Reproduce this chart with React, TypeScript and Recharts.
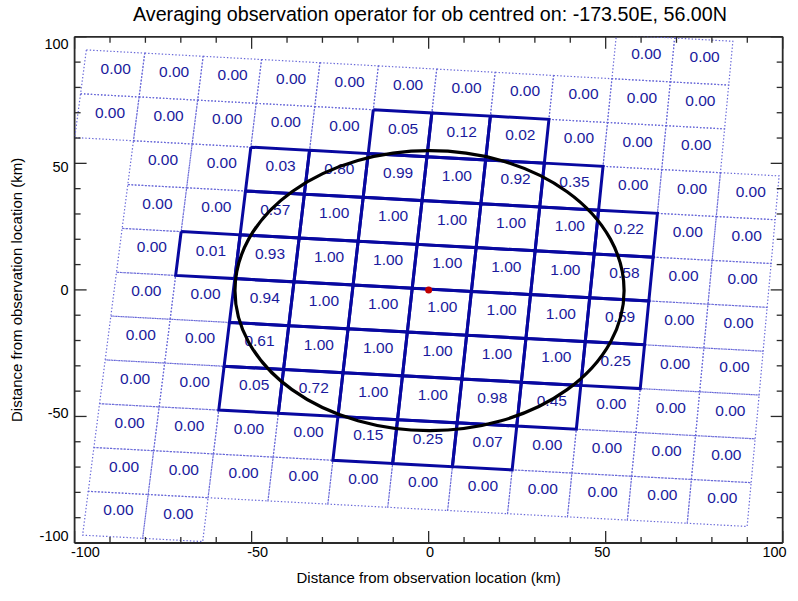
import React from 'react';
import { ScatterChart, Scatter, XAxis, YAxis } from 'recharts';

const FONT = "'Liberation Sans', Arial, Helvetica, sans-serif";
const TITLE = 'Averaging observation operator for ob centred on: -173.50E, 56.00N';
const AXIS_TITLE = 'Distance from observation location (km)';

const AXIS_TICKS = [-100, -90, -80, -70, -60, -50, -40, -30, -20, -10, 0, 10, 20, 30, 40, 50, 60, 70, 80, 90, 100];
const LABELLED_TICKS = [-100, -50, 0, 50, 100];

// Model grid rows (top to bottom): row index, first column index, values
const ROW_IDS = [-1, 0, 1, 2, 3, 4, 5, 6, 7, 8, 9, 10];
const ROW_FIRST_COLUMN = [9, 0, 0, 1, 1, 1, 1, 1, 1, 1, 1, 1];
const ROW_M1 = [0.0, 0.0];
const ROW_0 = [0.0, 0.0, 0.0, 0.0, 0.0, 0.0, 0.0, 0.0, 0.0, 0.0, 0.0];
const ROW_1 = [0.0, 0.0, 0.0, 0.0, 0.0, 0.05, 0.12, 0.02, 0.0, 0.0, 0.0];
const ROW_2 = [0.0, 0.0, 0.03, 0.8, 0.99, 1.0, 0.92, 0.35, 0.0, 0.0, 0.0];
const ROW_3 = [0.0, 0.0, 0.57, 1.0, 1.0, 1.0, 1.0, 1.0, 0.22, 0.0, 0.0];
const ROW_4 = [0.0, 0.01, 0.93, 1.0, 1.0, 1.0, 1.0, 1.0, 0.58, 0.0, 0.0];
const ROW_5 = [0.0, 0.0, 0.94, 1.0, 1.0, 1.0, 1.0, 1.0, 0.59, 0.0, 0.0];
const ROW_6 = [0.0, 0.0, 0.61, 1.0, 1.0, 1.0, 1.0, 1.0, 0.25, 0.0, 0.0];
const ROW_7 = [0.0, 0.0, 0.05, 0.72, 1.0, 1.0, 0.98, 0.45, 0.0, 0.0, 0.0];
const ROW_8 = [0.0, 0.0, 0.0, 0.0, 0.15, 0.25, 0.07, 0.0, 0.0, 0.0, 0.0];
const ROW_9 = [0.0, 0.0, 0.0, 0.0, 0.0, 0.0, 0.0, 0.0, 0.0, 0.0, 0.0];
const ROW_10 = [0.0, 0.0];
const ROW_VALUES = [ROW_M1, ROW_0, ROW_1, ROW_2, ROW_3, ROW_4, ROW_5, ROW_6, ROW_7, ROW_8, ROW_9, ROW_10];

// Grid geometry in km (distance from observation location)
const GRID_ORIGIN = { x: -96.68, y: 94.81 };
const GRID_COL_STEP = { x: 16.494, y: -1.262 };
const GRID_ROW_STEP = { x: -1.638, y: -17.313 };
const GRID_SKEW_X = 0.0424;

// Averaging circle extremes (left, top, right, bottom), km
const CIRCLE_EXTREMES = [
  { x: -54.7, y: 0 },
  { x: 0, y: 55.0 },
  { x: 55.2, y: 0 },
  { x: 0, y: -55.6 },
];
const OB_LOCATION = [{ x: 0, y: 0 }];

const AXIS_COLOR = '#2a2a2a';
const THICK_COLOR = '#0808a0';
const THIN_COLOR = '#6868d8';
const TEXT_COLOR = '#1a1a9c';

function gridNode(i: number, j: number) {
  return {
    x: GRID_ORIGIN.x + i * GRID_COL_STEP.x + j * GRID_ROW_STEP.x + i * j * GRID_SKEW_X,
    y: GRID_ORIGIN.y + i * GRID_COL_STEP.y + j * GRID_ROW_STEP.y,
  };
}

const CELLS = ROW_VALUES.flatMap((vals, k) =>
  vals.map((v, n) => {
    const c = ROW_FIRST_COLUMN[k] + n;
    const r = ROW_IDS[k];
    return {
      key: `cell_${r}_${c}`,
      v,
      corners: [gridNode(c, r), gridNode(c + 1, r), gridNode(c + 1, r + 1), gridNode(c, r + 1), gridNode(c, r)],
      center: { ...gridNode(c + 0.5, r + 0.5), v },
    };
  })
);
const THIN_CELLS = CELLS.filter((c) => c.v === 0);
const THICK_CELLS = CELLS.filter((c) => c.v !== 0);
const LABEL_POINTS = CELLS.map((c) => c.center);

const Empty = () => <g />;

const CellLabel = (p: any) => (
  <text
    x={p.cx + 3}
    y={p.cy + 0.5}
    textAnchor="middle"
    fontSize={15.5}
    fontFamily={FONT}
    fill={TEXT_COLOR}
  >
    {Number(p.payload.v).toFixed(2)}
  </text>
);

const CircleOutline = (props: any) => {
  const pts = props.points || [];
  if (pts.length < 4) return null;
  const [l, t, r, b] = pts;
  return (
    <ellipse
      cx={(l.x + r.x) / 2}
      cy={(t.y + b.y) / 2}
      rx={Math.abs(r.x - l.x) / 2}
      ry={Math.abs(b.y - t.y) / 2}
      fill="none"
      stroke="#000"
      strokeWidth={3.2}
    />
  );
};

const ObDot = (p: any) => <circle cx={p.cx} cy={p.cy} r={3.5} fill="#c00000" />;

const isMajor = (v: number) => LABELLED_TICKS.includes(v);

const BottomTick = (p: any) => {
  const v = p.payload.value;
  const major = isMajor(v);
  return (
    <g>
      <line x1={p.x} x2={p.x} y1={p.y} y2={p.y - (major ? 12 : 6)} stroke={AXIS_COLOR} strokeWidth={1.3} />
      {major && (
        <text x={p.x - v * 0.095 + 1.3} y={p.y + 14} textAnchor="middle" fontSize={14.5} fontFamily={FONT} fill="#000">
          {v}
        </text>
      )}
    </g>
  );
};
const TopTick = (p: any) => {
  const major = isMajor(p.payload.value);
  return <line x1={p.x} x2={p.x} y1={p.y} y2={p.y + (major ? 12 : 6)} stroke={AXIS_COLOR} strokeWidth={1.3} />;
};
const LeftTick = (p: any) => {
  const v = p.payload.value;
  const major = isMajor(v);
  return (
    <g>
      <line x1={p.x} x2={p.x + (major ? 12 : 6)} y1={p.y} y2={p.y} stroke={AXIS_COLOR} strokeWidth={1.3} />
      {major && (
        <text x={p.x - 6} y={p.y + v * 0.075 + 5} textAnchor="end" fontSize={14.5} fontFamily={FONT} fill="#000">
          {v}
        </text>
      )}
    </g>
  );
};
const RightTick = (p: any) => {
  const major = isMajor(p.payload.value);
  return <line x1={p.x} x2={p.x - (major ? 12 : 6)} y1={p.y} y2={p.y} stroke={AXIS_COLOR} strokeWidth={1.3} />;
};

const YTitle = (props: any) => {
  const vb = props.viewBox || { x: 0, y: 36.8, width: 74.6, height: 506 };
  const cx = vb.x + 17;
  const cy = vb.y + vb.height / 2;
  return (
    <text
      x={cx}
      y={cy}
      transform={`rotate(-90 ${cx} ${cy})`}
      textAnchor="middle"
      dominantBaseline="central"
      fontSize={15}
      fontFamily={FONT}
      fill="#000"
    >
      {AXIS_TITLE}
    </text>
  );
};

const axisLine = { stroke: AXIS_COLOR, strokeWidth: 1.8 };

export default function App() {
  return (
    <div style={{ position: 'absolute', left: 0, top: 0, width: 798, height: 601, background: '#fff', fontFamily: FONT }}>
      <div
        style={{
          position: 'absolute',
          left: 0,
          top: 3,
          width: 860,
          textAlign: 'center',
          fontSize: 19.7,
          lineHeight: '22px',
          color: '#000',
          fontFamily: FONT,
          whiteSpace: 'nowrap',
        }}
      >
        {TITLE}
      </div>
      <ScatterChart
        width={798}
        height={601}
        margin={{ top: 35.8, right: 14.3, bottom: 13, left: 0 }}
        style={{ fontFamily: FONT }}
      >
        <XAxis
          xAxisId="b"
          type="number"
          dataKey="x"
          domain={[-100, 100]}
          allowDataOverflow
          ticks={AXIS_TICKS}
          interval={0}
          tickSize={0}
          tickMargin={0}
          tickLine={false}
          tick={BottomTick}
          height={45}
          axisLine={axisLine}
          label={{ value: AXIS_TITLE, position: 'insideBottom', offset: 5, fontSize: 15, fill: '#000', fontFamily: FONT }}
        />
        <XAxis
          xAxisId="t"
          orientation="top"
          type="number"
          dataKey="x"
          domain={[-100, 100]}
          allowDataOverflow
          ticks={AXIS_TICKS}
          interval={0}
          tickSize={0}
          tickMargin={0}
          tickLine={false}
          tick={TopTick}
          height={1}
          axisLine={axisLine}
        />
        <YAxis
          yAxisId="l"
          type="number"
          dataKey="y"
          domain={[-100, 100]}
          allowDataOverflow
          ticks={AXIS_TICKS}
          interval={0}
          tickSize={0}
          tickMargin={0}
          tickLine={false}
          tick={LeftTick}
          width={74.6}
          axisLine={axisLine}
          label={{ content: YTitle }}
        />
        <YAxis
          yAxisId="r"
          orientation="right"
          type="number"
          dataKey="y"
          domain={[-100, 100]}
          allowDataOverflow
          ticks={AXIS_TICKS}
          interval={0}
          tickSize={0}
          tickMargin={0}
          tickLine={false}
          tick={RightTick}
          width={1}
          axisLine={axisLine}
        />
        {THIN_CELLS.map((c) => (
          <Scatter
            key={c.key}
            xAxisId="b"
            yAxisId="l"
            data={c.corners}
            line={{ stroke: THIN_COLOR, strokeWidth: 1.2, strokeDasharray: '1.4 2' }}
            lineType="joint"
            shape={Empty}
            isAnimationActive={false}
          />
        ))}
        {THICK_CELLS.map((c) => (
          <Scatter
            key={c.key}
            xAxisId="b"
            yAxisId="l"
            data={c.corners}
            line={{ stroke: THICK_COLOR, strokeWidth: 3, strokeLinejoin: 'miter' }}
            lineType="joint"
            shape={Empty}
            isAnimationActive={false}
          />
        ))}
        <Scatter
          xAxisId="b"
          yAxisId="l"
          data={LABEL_POINTS}
          shape={CellLabel}
          isAnimationActive={false}
        />
        <Scatter
          xAxisId="b"
          yAxisId="l"
          data={CIRCLE_EXTREMES}
          line={<CircleOutline />}
          lineType="joint"
          shape={Empty}
          isAnimationActive={false}
        />
        <Scatter xAxisId="t" yAxisId="r" data={OB_LOCATION} shape={ObDot} isAnimationActive={false} />
      </ScatterChart>
    </div>
  );
}
